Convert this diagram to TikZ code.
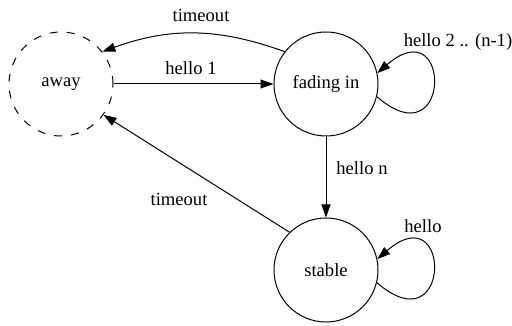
\documentclass[tikz,border=0pt]{standalone}
\usepackage{fontspec}
\setmainfont{Liberation Serif}
\usetikzlibrary{arrows.meta}
\begin{document}
\begin{tikzpicture}[x=1pt,y=1pt,
  state/.style={circle,draw,line width=1pt,minimum size=104pt,inner sep=0pt},
  edge/.style={line width=1pt,-{Triangle[length=13pt,width=9pt]}},
  lbl/.style={inner sep=0pt},
  font=\fontsize{18.6}{22}\selectfont]
\useasboundingbox (0,0) rectangle (512,326);
\node[state,dash pattern=on 8pt off 9pt] (aw) at (61,242) {away};
\node[state] (fa) at (326,242) {fading in};
\node[state] (st) at (326,56) {stable};
\draw[edge] (aw) -- (fa);
\node[lbl] (l1) at (191,258) {hello 1};
\draw[edge] (fa.142) to[bend right=20] (aw.38);
\node[lbl] (l2) at (201,311) {timeout};
\draw[edge] (fa) -- (st);
\node[lbl] (l3) at (362,158) {hello n};
\draw[edge] (st.134) -- (aw.-36);
\node[lbl] (l4) at (179,127) {timeout};
\draw[edge] (fa.-14) .. controls +(75,-65) and +(75,65) .. (fa.12);
\node[lbl] (l5) at (458,284) {hello 2 .. (n-1)};
\draw[edge] (st.-14) .. controls +(75,-65) and +(75,65) .. (st.12);
\node[lbl] (l6) at (423,100) {hello};
\end{tikzpicture}
\end{document}
